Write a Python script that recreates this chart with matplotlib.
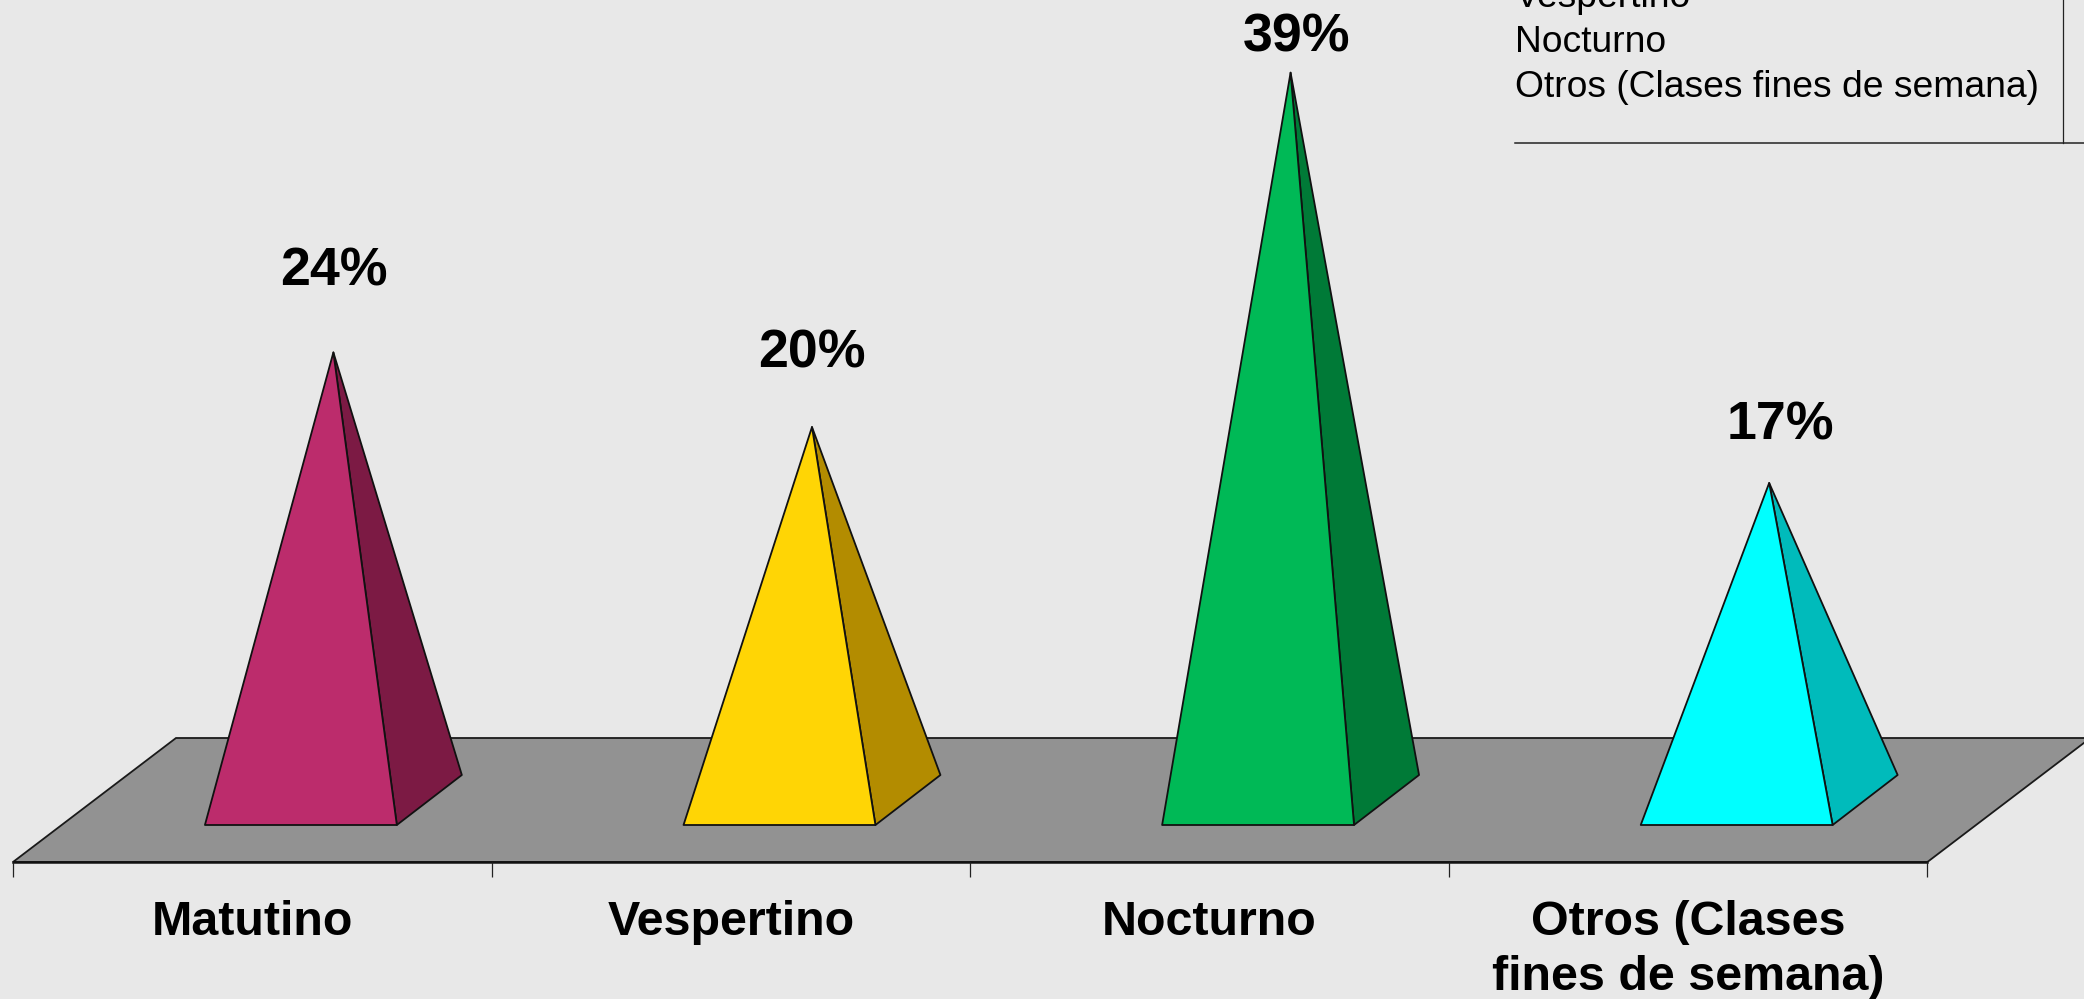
import matplotlib
matplotlib.use("Agg")
import matplotlib.pyplot as plt
from matplotlib.patches import Polygon

plt.rcParams['font.family'] = ['Liberation Sans', 'DejaVu Sans']

categories = ["Matutino", "Vespertino", "Nocturno", "Otros (Clases\nfines de semana)"]
values = [24, 20, 39, 17]
value_labels = ["24%", "20%", "39%", "17%"]
front_colors = ["#BC2C6C", "#FFD505", "#00B956", "#00FFFF"]
side_colors = ["#7C1A44", "#B38C00", "#007A37", "#00BBBB"]
legend_lines = ["Vespertino", "Nocturno", "Otros (Clases fines de semana)"]

W, H = 2084, 999
X0, UX = 13.0, 478.6      # pixel of category edge 0, pixels per category
Y0, UY = 800.0, 18.65     # pixel of value 0, pixels per percent
FLOOR_FRONT_PX = 862.0
PT = 0.72                 # points per pixel at dpi 100

fig = plt.figure(figsize=(W / 100, H / 100), dpi=100, facecolor="#E8E8E8")
ax = fig.add_axes([0, (H - FLOOR_FRONT_PX) / H, 1, FLOOR_FRONT_PX / H])
ax.set_facecolor("none")
ax.set_xlim(-X0 / UX, (W - X0) / UX)
ax.set_ylim(-(FLOOR_FRONT_PX - Y0) / UY, Y0 / UY)

n = len(categories)
for s in ("top", "left", "right"):
    ax.spines[s].set_visible(False)
ax.spines["bottom"].set_linewidth(1.8)
ax.spines["bottom"].set_color("#111111")
ax.spines["bottom"].set_zorder(1.5)
ax.spines["bottom"].set_bounds(0, n)
ax.set_yticks([])
ax.set_xticks(range(n + 1))
ax.set_xticklabels([])
ax.tick_params(axis="x", which="major", length=10.8, width=0.9, color="#222222", direction="out")
ax.set_xticks([i + 0.5 for i in range(n)], minor=True)
ax.set_xticklabels(categories, minor=True, fontsize=34.8, fontweight="bold", linespacing=1.28, ma="center")
ax.tick_params(axis="x", which="minor", length=0, pad=27.5)

# floor
floor_dx = 163 / UX
floor_dy = (FLOOR_FRONT_PX - Y0) / UY
ax.add_patch(Polygon([(0, -floor_dy), (n, -floor_dy), (n + floor_dx, floor_dy), (floor_dx, floor_dy)],
                     closed=True, facecolor="#929292", edgecolor="#1a1a1a", lw=1.3, zorder=1))

# pyramids
base_left, base_w = 0.401, 0.401
depth_dx = 65 / UX
depth_dy = 25 / UY
label_shift_px = [0, 0, 6, 11]
label_rise_px = [67, 59, 21, 43]
for i, (v, fc, sc, lab, sh, rise) in enumerate(zip(values, front_colors, side_colors, value_labels,
                                                   label_shift_px, label_rise_px)):
    l = i + base_left
    r = l + base_w
    apex = (l + (base_w + depth_dx) / 2, v)
    ax.add_patch(Polygon([(r, -depth_dy), (r + depth_dx, depth_dy), apex], closed=True,
                         facecolor=sc, edgecolor="#111111", lw=1.3, joinstyle="round", zorder=2))
    ax.add_patch(Polygon([(l, -depth_dy), (r, -depth_dy), apex], closed=True,
                         facecolor=fc, edgecolor="#111111", lw=1.3, joinstyle="round", zorder=3))
    ax.annotate(lab, xy=apex, xytext=(sh * PT, rise * PT), textcoords="offset points",
                ha="center", va="baseline", fontsize=38.7, fontweight="bold", color="black", zorder=4)

# legend fragment, cropped by the top of the picture
legend_baselines = [7, 52, 97]
for txt, yb in zip(legend_lines, legend_baselines):
    fig.text(1515 / W, 1 - yb / H, txt, fontsize=26.8, color="black", ha="left", va="baseline")
fig.add_artist(plt.Line2D([1515 / W, 1], [1 - 143 / H] * 2, color="#222222", lw=1.1))
fig.add_artist(plt.Line2D([2063 / W] * 2, [1 - 143 / H, 1], color="#222222", lw=0.9))

fig.savefig("out.png", dpi=100, facecolor=fig.get_facecolor())
